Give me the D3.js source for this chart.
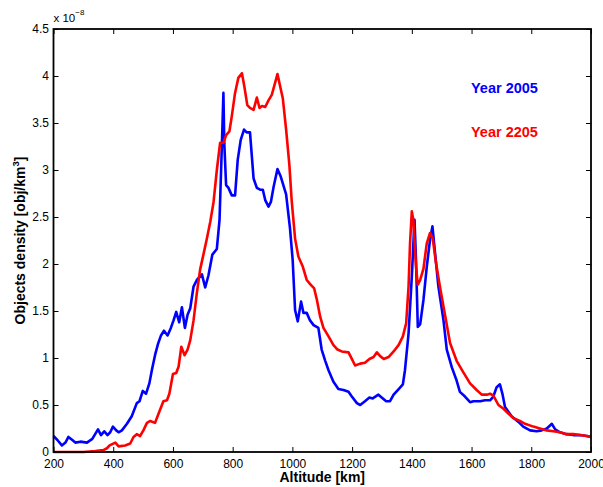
<!doctype html>
<html>
<head>
<meta charset="utf-8">
<title>Objects density vs altitude</title>
<script src="https://d3js.org/d3.v7.min.js"></script>
<style>
    body { margin: 0; background: #fff; }
    svg { font-family: "Liberation Sans", Arial, sans-serif; }
    .tick text { font-size: 12px; fill: #000; }
    .tick line { stroke: #000; }
</style>
</head>
<body>
<script>
// altitude [km] and density [1e-8 obj/km^3]
const alt2005 = [200,215,228,240,250,262,273,290,312,330,349,359,370,381,390,399,410,418,429,446,462,479,488,499,510,521,530,540,550,560,570,582,593,602,611,621,630,640,649,658,669,680,697,708,719,732,747,756,764,769,772,778,786,797,808,817,827,838,847,858,870,881,892,901,909,920,928,937,950,961,979,992,1001,1009,1018,1029,1037,1048,1059,1071,1087,1098,1110,1121,1137,1154,1171,1188,1199,1216,1227,1243,1258,1269,1288,1299,1314,1327,1339,1356,1370,1377,1389,1400,1409,1414,1420,1428,1439,1450,1461,1469,1478,1489,1506,1517,1534,1550,1561,1578,1595,1606,1629,1645,1662,1673,1684,1695,1704,1712,1734,1757,1773,1796,1818,1835,1852,1869,1880,1896,1918,1941,1963,1986,2000];
const dens2005 = [0.17,0.12,0.07,0.10,0.16,0.13,0.10,0.11,0.10,0.14,0.24,0.18,0.22,0.18,0.21,0.27,0.23,0.21,0.23,0.30,0.38,0.52,0.54,0.65,0.62,0.73,0.88,1.03,1.15,1.24,1.29,1.24,1.32,1.40,1.49,1.38,1.54,1.32,1.46,1.53,1.76,1.83,1.89,1.75,1.88,2.10,2.16,2.47,3.28,3.82,3.28,2.84,2.81,2.73,2.73,3.11,3.32,3.43,3.40,3.40,2.91,2.81,2.79,2.79,2.68,2.61,2.66,2.82,3.01,2.93,2.74,2.38,2.04,1.51,1.39,1.60,1.48,1.48,1.40,1.35,1.32,1.09,0.97,0.87,0.75,0.67,0.66,0.64,0.59,0.52,0.50,0.54,0.58,0.57,0.61,0.58,0.54,0.54,0.61,0.67,0.72,0.87,1.26,1.87,2.47,2.04,1.33,1.36,1.62,1.97,2.26,2.40,2.11,1.76,1.40,1.09,0.90,0.76,0.64,0.59,0.53,0.54,0.54,0.55,0.55,0.59,0.69,0.72,0.61,0.48,0.38,0.32,0.27,0.23,0.22,0.23,0.25,0.30,0.24,0.21,0.19,0.18,0.18,0.17,0.16];

const alt2205 = [200,300,340,367,379,388,407,418,440,457,468,479,490,501,513,524,540,552,568,580,588,600,611,619,628,639,649,658,669,680,691,702,713,725,736,747,758,769,778,789,797,808,819,831,839,849,858,870,881,890,898,909,920,931,950,968,979,990,998,1009,1020,1035,1048,1061,1073,1082,1093,1104,1121,1137,1151,1165,1188,1199,1210,1227,1243,1258,1272,1283,1294,1306,1322,1339,1356,1370,1381,1389,1394,1400,1405,1414,1420,1428,1439,1450,1461,1470,1481,1494,1511,1528,1550,1572,1595,1617,1634,1651,1662,1673,1690,1707,1723,1740,1762,1779,1807,1829,1852,1874,1896,1918,1941,1963,1986,2000];
const dens2205 = [0,0,0.01,0.02,0.04,0.07,0.10,0.06,0.07,0.09,0.16,0.19,0.17,0.23,0.31,0.33,0.31,0.41,0.54,0.55,0.62,0.83,0.84,0.91,1.12,1.03,1.09,1.19,1.40,1.69,1.94,2.10,2.26,2.45,2.66,3.00,3.29,3.29,3.37,3.41,3.57,3.82,3.98,4.03,3.89,3.69,3.66,3.64,3.77,3.66,3.68,3.67,3.74,3.80,4.02,3.76,3.43,3.05,2.66,2.27,2.08,1.97,1.83,1.78,1.74,1.62,1.44,1.32,1.23,1.14,1.09,1.07,1.06,0.99,0.92,0.94,0.95,0.99,1.01,1.06,1.02,0.99,1.01,1.07,1.14,1.23,1.37,1.76,2.22,2.56,2.47,1.97,1.78,1.83,1.95,2.22,2.33,2.27,2.01,1.76,1.46,1.16,0.97,0.85,0.73,0.66,0.61,0.61,0.62,0.60,0.50,0.46,0.41,0.36,0.33,0.30,0.27,0.25,0.23,0.22,0.21,0.19,0.19,0.18,0.17,0.16];

const xTicks = [200,400,600,800,1000,1200,1400,1600,1800,2000];
const yTicks = [0,0.5,1,1.5,2,2.5,3,3.5,4,4.5];
const seriesNames = ["Year 2005", "Year 2205"];
const seriesColors = ["#0000ff", "#ff0000"];

const w = 603, h = 487;
const m = {left: 53.5, right: 12, top: 29, bottom: 35};

const svg = d3.select("body").append("svg")
    .attr("width", w)
    .attr("height", h);

const x = d3.scaleLinear().domain([200, 2000]).range([m.left, w - m.right]);
const y = d3.scaleLinear().domain([0, 4.5]).range([h - m.bottom, m.top]);

// curves
const series = [
    d3.zip(alt2005, dens2005),
    d3.zip(alt2205, dens2205)
];
const line = d3.line().x(d => x(d[0])).y(d => y(d[1]));
svg.selectAll("path.curve")
    .data(series)
    .enter()
    .append("path")
    .attr("class", "curve")
    .attr("d", line)
    .attr("fill", "none")
    .attr("stroke", (d, i) => seriesColors[i])
    .attr("stroke-width", 2.6)
    .attr("stroke-linejoin", "round");

// axes, ticks pointing in (matlab style)
const fmt = d3.format("");
svg.append("g")
    .attr("transform", "translate(0," + y(0) + ")")
    .call(d3.axisBottom(x).tickValues(xTicks).tickFormat(fmt).tickSizeInner(-5).tickSizeOuter(0).tickPadding(7));
svg.append("g")
    .attr("transform", "translate(0," + y(4.5) + ")")
    .call(d3.axisTop(x).tickValues(xTicks).tickFormat("").tickSizeInner(-5).tickSizeOuter(0));
svg.append("g")
    .attr("transform", "translate(" + x(200) + ",0)")
    .call(d3.axisLeft(y).tickValues(yTicks).tickFormat(fmt).tickSizeInner(-5).tickSizeOuter(0).tickPadding(4.5));
svg.append("g")
    .attr("transform", "translate(" + x(2000) + ",0)")
    .call(d3.axisRight(y).tickValues(yTicks).tickFormat("").tickSizeInner(-5).tickSizeOuter(0));
svg.selectAll(".domain").remove();

// box
svg.append("rect")
    .attr("x", x(200))
    .attr("y", y(4.5))
    .attr("width", x(2000) - x(200))
    .attr("height", y(0) - y(4.5))
    .attr("fill", "none")
    .attr("stroke", "#000")
    .attr("stroke-width", 1.8);

// exponent
const ex = svg.append("text")
    .attr("x", x(200))
    .attr("y", 22)
    .attr("font-size", 11.5)
    .text("x 10");
ex.append("tspan")
    .attr("dy", -7)
    .attr("font-size", 8)
    .text("\u22128");

// axis labels
svg.append("text")
    .attr("x", (x(200) + x(2000)) / 2)
    .attr("y", 482)
    .attr("text-anchor", "middle")
    .attr("font-size", 14)
    .attr("font-weight", "bold")
    .text("Altitude [km]");

const yl = svg.append("text")
    .attr("transform", "translate(25," + y(2.25) + ") rotate(-90)")
    .attr("text-anchor", "middle")
    .attr("font-size", 14)
    .attr("font-weight", "bold")
    .text("Objects density [obj/km");
yl.append("tspan").attr("dy", -6).attr("font-size", 9.5).text("3");
yl.append("tspan").attr("dy", 6).text("]");

// legend text
svg.selectAll("text.leg")
    .data(seriesNames)
    .enter()
    .append("text")
    .attr("class", "leg")
    .attr("x", 471)
    .attr("y", (d, i) => 93 + i * 44)
    .attr("font-size", 14.5)
    .attr("font-weight", "bold")
    .attr("fill", (d, i) => seriesColors[i])
    .text(d => d);
</script>
</body>
</html>
